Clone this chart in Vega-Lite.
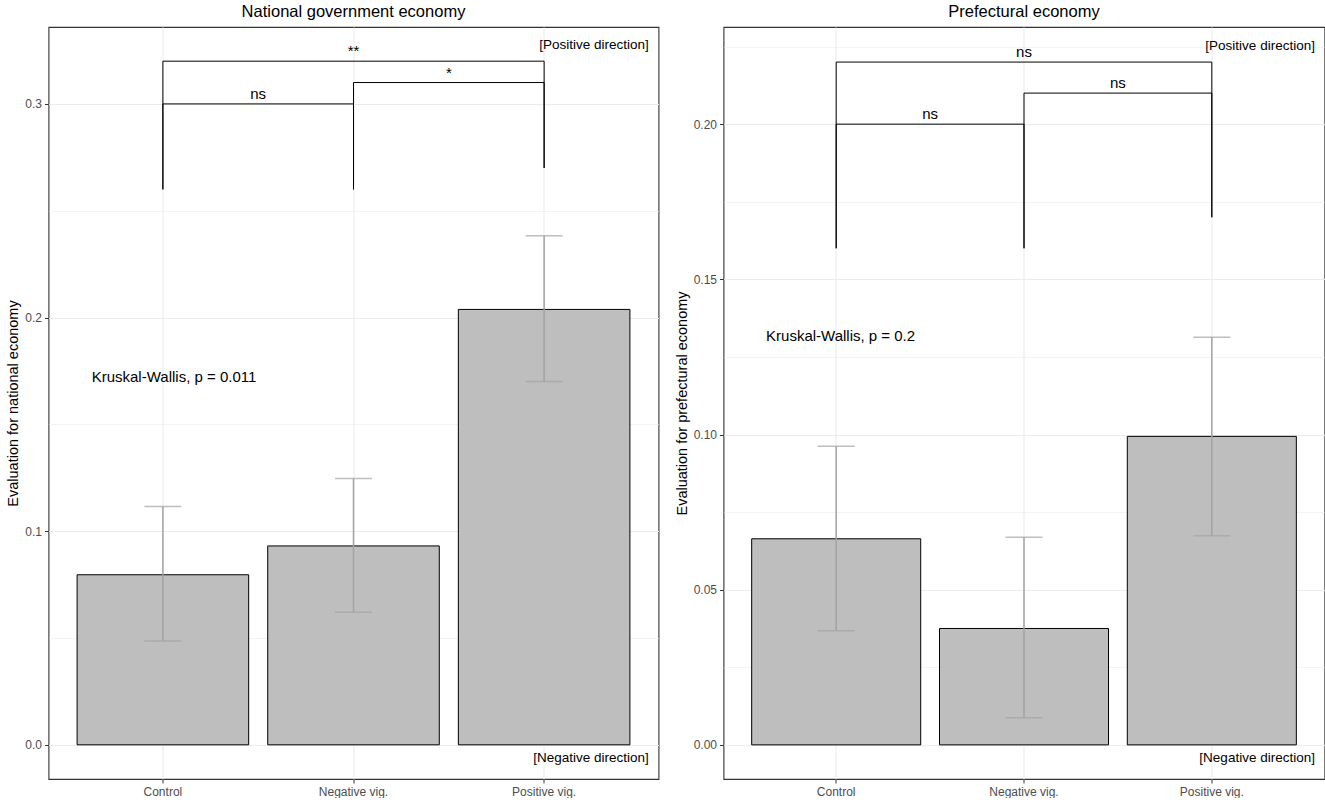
{
  "$schema": "https://vega.github.io/schema/vega-lite/v6.json",
  "padding": {"left": 4.5, "top": 2, "right": 3, "bottom": 0},
  "spacing": 14,
  "config": {
    "font": "Liberation Sans",
    "background": "white",
    "view": {"stroke": "#333333", "strokeWidth": 1.1},
    "axis": {
      "labelFont": "Liberation Sans",
      "labelFontSize": 12,
      "labelColor": "#4D4D4D",
      "tickColor": "#333333",
      "tickSize": 4,
      "labelPadding": 3,
      "domain": false,
      "gridColor": "#EBEBEB",
      "titleFont": "Liberation Sans",
      "titleFontSize": 14.5,
      "titleFontWeight": "normal",
      "titleColor": "#000000",
      "titlePadding": 4,
      "labelOverlap": false
    },
    "axisX": {"labelAngle": 0, "grid": true, "gridWidth": 1.1},
    "title": {"fontSize": 16.5, "fontWeight": "normal", "color": "#000000", "offset": 7, "frame": "group", "anchor": "middle"},
    "text": {"font": "Liberation Sans", "color": "#000000"}
  },
  "datasets": {
    "bars": [
      {"panel": "national", "group": "Control", "mean": 0.0796, "lo": 0.0486, "hi": 0.1116},
      {"panel": "national", "group": "Negative vig.", "mean": 0.0931, "lo": 0.0621, "hi": 0.1247},
      {"panel": "national", "group": "Positive vig.", "mean": 0.2038, "lo": 0.1701, "hi": 0.2383},
      {"panel": "prefectural", "group": "Control", "mean": 0.0664, "lo": 0.0368, "hi": 0.0962},
      {"panel": "prefectural", "group": "Negative vig.", "mean": 0.0375, "lo": 0.0087, "hi": 0.0669},
      {"panel": "prefectural", "group": "Positive vig.", "mean": 0.0994, "lo": 0.0674, "hi": 0.1313}
    ],
    "brackets": [
      {"panel": "national", "from": "Control", "to": "Negative vig.", "y": 0.30, "ly": 0.26, "ry": 0.26, "label": "ns", "span": 1},
      {"panel": "national", "from": "Negative vig.", "to": "Positive vig.", "y": 0.31, "ly": 0.26, "ry": 0.27, "label": "*", "span": 1},
      {"panel": "national", "from": "Control", "to": "Positive vig.", "y": 0.32, "ly": 0.26, "ry": 0.27, "label": "**", "span": 2},
      {"panel": "prefectural", "from": "Control", "to": "Negative vig.", "y": 0.20, "ly": 0.16, "ry": 0.16, "label": "ns", "span": 1},
      {"panel": "prefectural", "from": "Negative vig.", "to": "Positive vig.", "y": 0.21, "ly": 0.16, "ry": 0.17, "label": "ns", "span": 1},
      {"panel": "prefectural", "from": "Control", "to": "Positive vig.", "y": 0.22, "ly": 0.16, "ry": 0.17, "label": "ns", "span": 2}
    ],
    "notes": [
      {"panel": "national", "kind": "kw", "group": "Control", "y": 0.172, "label": "Kruskal-Wallis, p = 0.011"},
      {"panel": "national", "kind": "dir", "group": "Positive vig.", "y": 0.3275, "label": "[Positive direction]"},
      {"panel": "national", "kind": "dir", "group": "Positive vig.", "y": -0.0061, "label": "[Negative direction]"},
      {"panel": "prefectural", "kind": "kw", "group": "Control", "y": 0.1318, "label": "Kruskal-Wallis, p = 0.2"},
      {"panel": "prefectural", "kind": "dir", "group": "Positive vig.", "y": 0.2252, "label": "[Positive direction]"},
      {"panel": "prefectural", "kind": "dir", "group": "Positive vig.", "y": -0.0042, "label": "[Negative direction]"}
    ]
  },
  "hconcat": [
    {
      "width": 610,
      "height": 752,
      "title": {"text": "National government economy"},
      "layer": [
        {
          "data": {"name": "bars"},
          "transform": [{"filter": "datum.panel == 'national'"}],
          "mark": {"type": "bar", "fill": "#BEBEBE", "stroke": "#000000", "strokeWidth": 1},
          "encoding": {
            "x": {"field": "group", "type": "nominal", "title": null,
                  "scale": {"domain": ["Control", "Negative vig.", "Positive vig."], "paddingInner": 0.1, "paddingOuter": 0.15}},
            "y": {"field": "mean", "type": "quantitative", "title": "Evaluation for national economy",
                  "scale": {"domain": [-0.016, 0.336], "nice": false, "zero": false},
                  "axis": {
                    "values": [0, 0.05, 0.1, 0.15, 0.2, 0.25, 0.3],
                    "labelExpr": "round(datum.value*20) % 2 == 0 ? format(datum.value, '.1f') : ''",
                    "tickOpacity": {"condition": {"test": "round(datum.value*20) % 2 == 1", "value": 0}, "value": 1},
                    "gridWidth": {"condition": {"test": "round(datum.value*20) % 2 == 1", "value": 0.6}, "value": 1.1}
                  }}
          }
        },
        {
          "data": {"name": "bars"},
          "transform": [{"filter": "datum.panel == 'national'"}],
          "mark": {"type": "rule", "color": "#A3A3A3", "strokeWidth": 1.5},
          "encoding": {
            "x": {"field": "group", "type": "nominal"},
            "y": {"field": "lo", "type": "quantitative"},
            "y2": {"field": "hi"}
          }
        },
        {
          "data": {"name": "bars"},
          "transform": [{"filter": "datum.panel == 'national'"}, {"fold": ["lo", "hi"], "as": ["end", "val"]}],
          "mark": {"type": "tick", "color": "#A3A3A3", "size": 37, "thickness": 1.5},
          "encoding": {
            "x": {"field": "group", "type": "nominal"},
            "y": {"field": "val", "type": "quantitative"}
          }
        },
        {
          "mark": {"type": "rule", "strokeDash": [4, 4], "color": "#B3B3B3", "strokeWidth": 1},
          "encoding": {"y": {"datum": 0}}
        },
        {
          "data": {"name": "brackets"},
          "transform": [{"filter": "datum.panel == 'national'"}],
          "mark": {"type": "rule", "color": "#000000", "strokeWidth": 1},
          "encoding": {
            "x": {"field": "from", "type": "nominal"},
            "x2": {"field": "to"},
            "y": {"field": "y", "type": "quantitative"}
          }
        },
        {
          "data": {"name": "brackets"},
          "transform": [{"filter": "datum.panel == 'national'"}],
          "mark": {"type": "rule", "color": "#000000", "strokeWidth": 1},
          "encoding": {
            "x": {"field": "from", "type": "nominal"},
            "y": {"field": "y", "type": "quantitative"},
            "y2": {"field": "ly"}
          }
        },
        {
          "data": {"name": "brackets"},
          "transform": [{"filter": "datum.panel == 'national'"}],
          "mark": {"type": "rule", "color": "#000000", "strokeWidth": 1},
          "encoding": {
            "x": {"field": "to", "type": "nominal"},
            "y": {"field": "y", "type": "quantitative"},
            "y2": {"field": "ry"}
          }
        },
        {
          "data": {"name": "brackets"},
          "transform": [{"filter": "datum.panel == 'national' && datum.span == 1"}],
          "mark": {"type": "text", "fontSize": 15, "baseline": "alphabetic", "dy": -5},
          "encoding": {
            "x": {"field": "from", "type": "nominal", "bandPosition": 1.0556},
            "y": {"field": "y", "type": "quantitative"},
            "text": {"field": "label"}
          }
        },
        {
          "data": {"name": "brackets"},
          "transform": [{"filter": "datum.panel == 'national' && datum.span == 2"}],
          "mark": {"type": "text", "fontSize": 15, "baseline": "alphabetic", "dy": -5},
          "encoding": {
            "x": {"field": "from", "type": "nominal", "bandPosition": 1.6111},
            "y": {"field": "y", "type": "quantitative"},
            "text": {"field": "label"}
          }
        },
        {
          "data": {"name": "notes"},
          "transform": [{"filter": "datum.panel == 'national' && datum.kind == 'kw'"}],
          "mark": {"type": "text", "fontSize": 15, "align": "left", "baseline": "middle"},
          "encoding": {
            "x": {"field": "group", "type": "nominal", "bandPosition": 0.085},
            "y": {"field": "y", "type": "quantitative"},
            "text": {"field": "label"}
          }
        },
        {
          "data": {"name": "notes"},
          "transform": [{"filter": "datum.panel == 'national' && datum.kind == 'dir'"}],
          "mark": {"type": "text", "fontSize": 13.5, "align": "right", "baseline": "middle"},
          "encoding": {
            "x": {"field": "group", "type": "nominal", "bandPosition": 1.11},
            "y": {"field": "y", "type": "quantitative"},
            "text": {"field": "label"}
          }
        }
      ]
    },
    {
      "width": 601,
      "height": 752,
      "title": {"text": "Prefectural economy"},
      "layer": [
        {
          "data": {"name": "bars"},
          "transform": [{"filter": "datum.panel == 'prefectural'"}],
          "mark": {"type": "bar", "fill": "#BEBEBE", "stroke": "#000000", "strokeWidth": 1},
          "encoding": {
            "x": {"field": "group", "type": "nominal", "title": null,
                  "scale": {"domain": ["Control", "Negative vig.", "Positive vig."], "paddingInner": 0.1, "paddingOuter": 0.15}},
            "y": {"field": "mean", "type": "quantitative", "title": "Evaluation for prefectural economy",
                  "scale": {"domain": [-0.011, 0.2313], "nice": false, "zero": false},
                  "axis": {
                    "values": [0, 0.025, 0.05, 0.075, 0.1, 0.125, 0.15, 0.175, 0.2, 0.225],
                    "labelExpr": "round(datum.value*40) % 2 == 0 ? format(datum.value, '.2f') : ''",
                    "tickOpacity": {"condition": {"test": "round(datum.value*40) % 2 == 1", "value": 0}, "value": 1},
                    "gridWidth": {"condition": {"test": "round(datum.value*40) % 2 == 1", "value": 0.6}, "value": 1.1}
                  }}
          }
        },
        {
          "data": {"name": "bars"},
          "transform": [{"filter": "datum.panel == 'prefectural'"}],
          "mark": {"type": "rule", "color": "#A3A3A3", "strokeWidth": 1.5},
          "encoding": {
            "x": {"field": "group", "type": "nominal"},
            "y": {"field": "lo", "type": "quantitative"},
            "y2": {"field": "hi"}
          }
        },
        {
          "data": {"name": "bars"},
          "transform": [{"filter": "datum.panel == 'prefectural'"}, {"fold": ["lo", "hi"], "as": ["end", "val"]}],
          "mark": {"type": "tick", "color": "#A3A3A3", "size": 37, "thickness": 1.5},
          "encoding": {
            "x": {"field": "group", "type": "nominal"},
            "y": {"field": "val", "type": "quantitative"}
          }
        },
        {
          "mark": {"type": "rule", "strokeDash": [4, 4], "color": "#B3B3B3", "strokeWidth": 1},
          "encoding": {"y": {"datum": 0}}
        },
        {
          "data": {"name": "brackets"},
          "transform": [{"filter": "datum.panel == 'prefectural'"}],
          "mark": {"type": "rule", "color": "#000000", "strokeWidth": 1},
          "encoding": {
            "x": {"field": "from", "type": "nominal"},
            "x2": {"field": "to"},
            "y": {"field": "y", "type": "quantitative"}
          }
        },
        {
          "data": {"name": "brackets"},
          "transform": [{"filter": "datum.panel == 'prefectural'"}],
          "mark": {"type": "rule", "color": "#000000", "strokeWidth": 1},
          "encoding": {
            "x": {"field": "from", "type": "nominal"},
            "y": {"field": "y", "type": "quantitative"},
            "y2": {"field": "ly"}
          }
        },
        {
          "data": {"name": "brackets"},
          "transform": [{"filter": "datum.panel == 'prefectural'"}],
          "mark": {"type": "rule", "color": "#000000", "strokeWidth": 1},
          "encoding": {
            "x": {"field": "to", "type": "nominal"},
            "y": {"field": "y", "type": "quantitative"},
            "y2": {"field": "ry"}
          }
        },
        {
          "data": {"name": "brackets"},
          "transform": [{"filter": "datum.panel == 'prefectural' && datum.span == 1"}],
          "mark": {"type": "text", "fontSize": 15, "baseline": "alphabetic", "dy": -5},
          "encoding": {
            "x": {"field": "from", "type": "nominal", "bandPosition": 1.0556},
            "y": {"field": "y", "type": "quantitative"},
            "text": {"field": "label"}
          }
        },
        {
          "data": {"name": "brackets"},
          "transform": [{"filter": "datum.panel == 'prefectural' && datum.span == 2"}],
          "mark": {"type": "text", "fontSize": 15, "baseline": "alphabetic", "dy": -5},
          "encoding": {
            "x": {"field": "from", "type": "nominal", "bandPosition": 1.6111},
            "y": {"field": "y", "type": "quantitative"},
            "text": {"field": "label"}
          }
        },
        {
          "data": {"name": "notes"},
          "transform": [{"filter": "datum.panel == 'prefectural' && datum.kind == 'kw'"}],
          "mark": {"type": "text", "fontSize": 15, "align": "left", "baseline": "middle"},
          "encoding": {
            "x": {"field": "group", "type": "nominal", "bandPosition": 0.085},
            "y": {"field": "y", "type": "quantitative"},
            "text": {"field": "label"}
          }
        },
        {
          "data": {"name": "notes"},
          "transform": [{"filter": "datum.panel == 'prefectural' && datum.kind == 'dir'"}],
          "mark": {"type": "text", "fontSize": 13.5, "align": "right", "baseline": "middle"},
          "encoding": {
            "x": {"field": "group", "type": "nominal", "bandPosition": 1.11},
            "y": {"field": "y", "type": "quantitative"},
            "text": {"field": "label"}
          }
        }
      ]
    }
  ]
}
